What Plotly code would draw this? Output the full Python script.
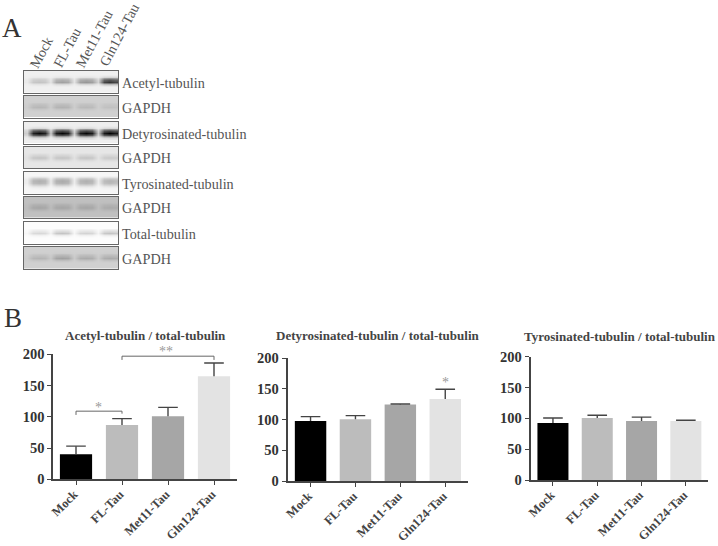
import plotly.graph_objects as go

W, H = 718, 546
SERIF = "Liberation Serif"

categories = ["Mock", "FL-Tau", "Met11-Tau", "Gln124-Tau"]
bar_colors = ["#000000", "#bcbcbc", "#a6a6a6", "#e3e3e3"]

acetyl_values = [40, 87, 101, 165]
acetyl_err_top = [53, 97, 115, 186]
detyr_values = [98, 100.5, 124.5, 133.5]
detyr_err_top = [105, 106.5, 125.5, 149.5]
tyr_values = [92.5, 100.5, 95.7, 95.7]
tyr_err_top = [100.5, 105, 102, 97]

blot_labels = ["Acetyl-tubulin", "GAPDH", "Detyrosinated-tubulin", "GAPDH",
               "Tyrosinated-tubulin", "GAPDH", "Total-tubulin", "GAPDH"]
blot_background = [240, 208, 238, 230, 246, 192, 252, 208]
blot_peaks = [[195, 160, 150, 50], [183, 178, 185, 192], [10, 5, 5, 0], [195, 195, 195, 200],
              [175, 170, 175, 180], [165, 165, 165, 170], [215, 195, 210, 195], [180, 160, 170, 170]]
blot_band_rows = [
    [0, 0, 0.15, 0.8, 1, 0.3, 0, 0, 0],
    [0, 0, 0.1, 0.7, 1, 0.4, 0, 0, 0],
    [0, 0, 0.1, 0.7, 1, 0.7, 0.1, 0, 0],
    [0, 0, 0, 0.5, 1, 0.5, 0, 0, 0],
    [0, 0, 0.6, 1, 0.9, 0.5, 0.1, 0, 0],
    [0, 0, 0.1, 0.7, 1, 0.5, 0, 0, 0],
    [0, 0, 0, 0.5, 1, 0.3, 0, 0, 0],
    [0, 0, 0.1, 0.6, 1, 0.4, 0, 0, 0],
]
band_cols = [0.15, 0.9, 1, 0.9]

blot_tops = [71, 96, 122, 146.5, 172, 196.5, 222, 247]
blot_h = 21.5

fig = go.Figure()
layout = dict(width=W, height=H, margin=dict(l=0, r=0, t=0, b=0, autoexpand=False), paper_bgcolor="white",
              plot_bgcolor="white", showlegend=False, bargap=0.3)
annotations = []


def px(x):
    return x / W


def py(y):
    return 1 - y / H


def text(x, y, s, size, color="#555555", bold=False, anchor="center", angle=0):
    annotations.append(dict(xref="paper", yref="paper", x=px(x), y=py(y), text=f"<b>{s}</b>" if bold else s,
                            showarrow=False, xanchor=anchor, yanchor="middle", textangle=angle,
                            font=dict(family=SERIF, size=size, color=color)))


ax = 1
# western blots
for bg, peaks, band_rows, top, label in zip(blot_background, blot_peaks, blot_band_rows, blot_tops, blot_labels):
    z = []
    for w in band_rows:
        row = []
        for peak in peaks:
            for c in band_cols:
                row.append(bg + (peak - bg) * w * c)
        z.append(row[:])
    fig.add_trace(go.Heatmap(z=z[::-1], zmin=0, zmax=255, zsmooth="best", showscale=False, hoverinfo="skip",
                             colorscale=[[0, "#000000"], [1, "#ffffff"]], xaxis=f"x{ax}", yaxis=f"y{ax}"))
    layout[f"xaxis{ax}"] = dict(domain=[px(24), px(118.3)], range=[-0.5, 15.5], showticklabels=False, ticks="",
                                showgrid=False, zeroline=False, showline=True, mirror=True, linecolor="#666666",
                                linewidth=1.2, anchor=f"y{ax}")
    layout[f"yaxis{ax}"] = dict(domain=[py(top + blot_h), py(top)], range=[-0.5, 8.5], showticklabels=False,
                                ticks="", showgrid=False, zeroline=False, showline=True, mirror=True,
                                linecolor="#666666", linewidth=1.2, anchor=f"x{ax}")
    text(120, top + blot_h / 2 + 1, label, 14.2, anchor="left")
    ax += 1

# panel A lane labels
for (x, y), s in zip([(41.7, 52.5), (66.7, 48), (94, 39), (119, 35)], categories):
    text(x, y, s, 14.2, angle=-62)
text(12, 28, "A", 27, color="#333333")
text(13, 318, "B", 27, color="#333333")

panels = [
    ("Acetyl-tubulin / total-tubulin", acetyl_values, acetyl_err_top, (53.3, 237), (354.3, 479.3), 46, (145, 335)),
    ("Detyrosinated-tubulin / total-tubulin", detyr_values, detyr_err_top, (287.7, 467.7), (358.3, 481), 44.9, (378, 335)),
    ("Tyrosinated-tubulin / total-tubulin", tyr_values, tyr_err_top, (530.7, 708), (356.7, 480), 44.3, (620, 336)),
]
first_bar_ax = ax
for title, vals, tops, (x0, x1), (y0, y1), step, (tx, ty) in panels:
    first_offset = (x1 - x0 - 3 * step - step / 2) / step
    fig.add_trace(go.Bar(x=categories, y=vals, marker=dict(color=bar_colors, line=dict(width=0)), width=0.7,
                         xaxis=f"x{ax}", yaxis=f"y{ax}", hoverinfo="x+y"))
    stem_x, stem_y = [], []
    for c, v, t in zip(categories, vals, tops):
        stem_x += [c, c, None]
        stem_y += [v, t, None]
    fig.add_trace(go.Scatter(x=stem_x, y=stem_y, mode="lines", line=dict(color="#444444", width=1.4),
                             xaxis=f"x{ax}", yaxis=f"y{ax}", hoverinfo="skip"))
    fig.add_trace(go.Scatter(x=categories, y=tops, mode="markers", hoverinfo="skip",
                             marker=dict(symbol="line-ew", size=14, color="#444444",
                                         line=dict(color="#444444", width=1.4)),
                             xaxis=f"x{ax}", yaxis=f"y{ax}"))
    layout[f"xaxis{ax}"] = dict(domain=[px(x0), px(x1)], range=[-first_offset, 3.5], type="category",
                                categoryorder="array", categoryarray=categories, tickangle=-45, ticks="outside",
                                ticklen=4, tickwidth=1.4, tickcolor="#444444", showgrid=False, zeroline=False,
                                showline=True, linecolor="#444444", linewidth=1.8, anchor=f"y{ax}",
                                automargin=False, ticklabelstandoff=-3, ticklabelshift=-2,
                                tickfont=dict(family=SERIF, size=12.5, color="#444444", weight="bold"))
    layout[f"yaxis{ax}"] = dict(domain=[py(y1), py(y0)], range=[0, 200], tickvals=[0, 50, 100, 150, 200],
                                ticks="outside", ticklen=4, tickwidth=1.4, tickcolor="#444444", showgrid=False,
                                zeroline=False, showline=True, linecolor="#444444", linewidth=2, anchor=f"x{ax}",
                                automargin=False,
                                tickfont=dict(family=SERIF, size=14.5, color="#333333", weight="bold"))
    text(tx, ty, title, 13, color="#444444", bold=True)
    ax += 1

# significance brackets (panel 1)
bracket_x = [["Mock", "Mock", "FL-Tau", "FL-Tau"], ["FL-Tau", "FL-Tau", "Gln124-Tau", "Gln124-Tau"]]
bracket_y = [[103, 109, 109, 105], [191, 197, 197, 191]]
for bx, by in zip(bracket_x, bracket_y):
    fig.add_trace(go.Scatter(x=bx, y=by, mode="lines", line=dict(color="#666666", width=1),
                             xaxis=f"x{first_bar_ax}", yaxis=f"y{first_bar_ax}", hoverinfo="skip"))
text(98, 407, "*", 14, color="#999999")
text(166, 351, "**", 14, color="#999999")
text(445, 382, "*", 14, color="#999999")

layout["annotations"] = annotations
fig.update_layout(**layout)
fig.write_html("out.html", config={"displayModeBar": False},
               post_script="document.body.style.margin='0';document.documentElement.style.overflow='hidden';")
